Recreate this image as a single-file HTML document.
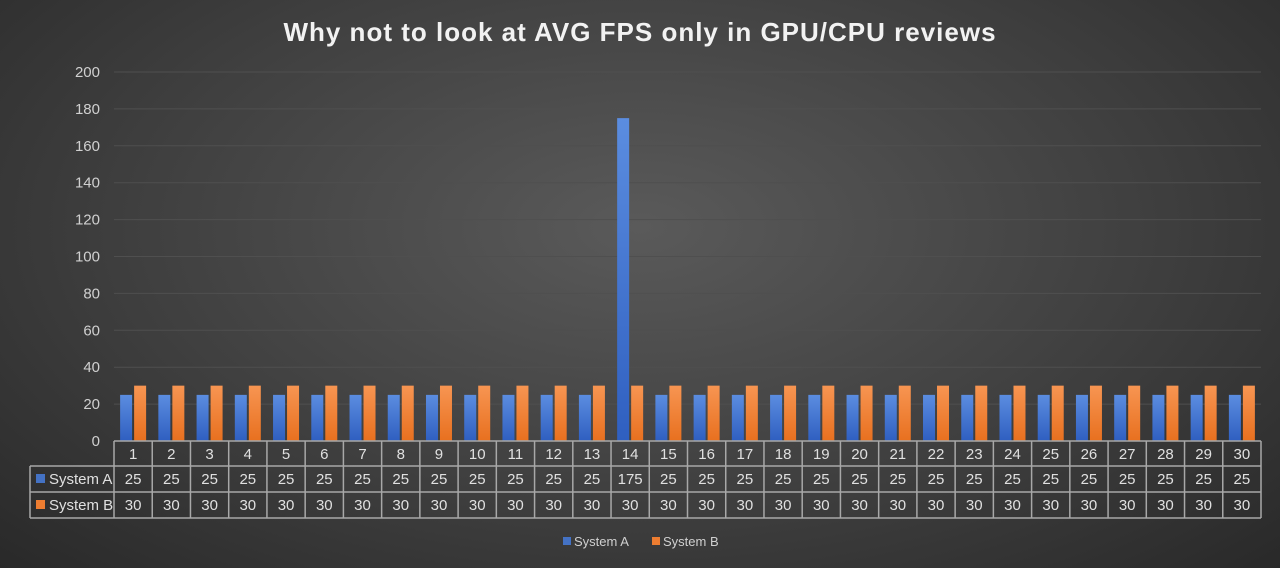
<!DOCTYPE html>
<html><head><meta charset="utf-8"><style>
body{margin:0;width:1280px;height:568px;overflow:hidden;font-family:"Liberation Sans",sans-serif;}
#c{width:1280px;height:568px;background:radial-gradient(ellipse 75% 90% at 50% 40%,#5a5a5a 0%,#3e3e3e 55%,#262626 100%);}
</style></head><body>
<div id="c">
<svg id="s" width="1280" height="568"></svg>
</div>
<script>
const categories=["1","2","3","4","5","6","7","8","9","10","11","12","13","14","15","16","17","18","19","20","21","22","23","24","25","26","27","28","29","30"];
const systemA=[25,25,25,25,25,25,25,25,25,25,25,25,25,175,25,25,25,25,25,25,25,25,25,25,25,25,25,25,25,25];
const systemB=[30,30,30,30,30,30,30,30,30,30,30,30,30,30,30,30,30,30,30,30,30,30,30,30,30,30,30,30,30,30];
const yTicks=[0,20,40,60,80,100,120,140,160,180,200];
const seriesNames=["System A","System B"];

const NS="http://www.w3.org/2000/svg";
const svg=document.getElementById('s');
const L=114,R=1261,T=72,B=441,yMax=200;
const cw=(R-L)/categories.length;
const y=v=>B-(v/yMax)*(B-T);
const xc=i=>L+cw*(i+0.5);
function el(t,a,p){const e=document.createElementNS(NS,t);for(const k in a)e.setAttribute(k,a[k]);(p||svg).appendChild(e);return e;}

const defs=el('defs',{});
defs.innerHTML='<linearGradient id="gA" x1="0" y1="0" x2="0" y2="1"><stop offset="0" stop-color="#5b8de0"/><stop offset="1" stop-color="#2f5fc0"/></linearGradient><linearGradient id="gB" x1="0" y1="0" x2="0" y2="1"><stop offset="0" stop-color="#f79552"/><stop offset="1" stop-color="#e8701f"/></linearGradient>';

const title=el('text',{x:640,y:41,'text-anchor':'middle','font-size':26,'font-weight':'bold',fill:'#f2f2f2','letter-spacing':'1'});
title.textContent='Why not to look at AVG FPS only in GPU/CPU reviews';



yTicks.forEach(v=>{
  if(v>0){const g=el('line',{x1:L,x2:R,y1:y(v),y2:y(v),stroke:'#4f4f4f','stroke-width':1});
  
  }
  const t=el('text',{x:100,y:y(v)+5,'text-anchor':'end','font-size':15,fill:'#d0d0d0'});
  t.textContent=v;
  
  
});

const bw=12;
categories.forEach((c,i)=>{
  const a=el('rect',{x:xc(i)-bw-1,y:y(systemA[i]),width:bw,height:B-y(systemA[i]),fill:'url(#gA)'});
  
  
  const b=el('rect',{x:xc(i)+1,y:y(systemB[i]),width:bw,height:B-y(systemB[i]),fill:'url(#gB)'});
  
  
});

const r0=441,r1=466,r2=492,r3=518,TL=30;
const lc='#a8a8a8';
function ln(x1,y1,x2,y2){const l=el('line',{x1,y1,x2,y2,stroke:lc,'stroke-width':1.5});

}
ln(L,r0,R,r0);ln(TL,r1,R,r1);ln(TL,r2,R,r2);ln(TL,r3,R,r3);
ln(TL,r1,TL,r3);
for(let i=0;i<=categories.length;i++)ln(L+cw*i,r0,L+cw*i,r3);
categories.forEach((c,i)=>{
  [[c,r0],[systemA[i],r1],[systemB[i],r2]].forEach(([v,ry],k)=>{
    const t=el('text',{x:xc(i),y:ry+18,'text-anchor':'middle','font-size':15,fill:'#e0e0e0'});
    t.textContent=v;
    
    
  });
});
[[r1,'#4472c4'],[r2,'#ed7d31']].forEach(([ry,col],k)=>{
  const sq=el('rect',{x:36,y:ry+8,width:9,height:9,fill:col});
  
  
  const t=el('text',{x:49,y:ry+18,'font-size':15,fill:'#e0e0e0'});
  t.textContent=seriesNames[k];
  
  
});

[[563,'#4472c4',0],[652,'#ed7d31',1]].forEach(([lx,col,k])=>{
  const g=el('g',{});
  
  
  el('rect',{x:lx,y:537,width:8,height:8,fill:col},g);
  const t=el('text',{x:lx+11,y:546,'font-size':13,fill:'#d0d0d0'},g);
  t.textContent=seriesNames[k];
});
</script>
</body></html>
